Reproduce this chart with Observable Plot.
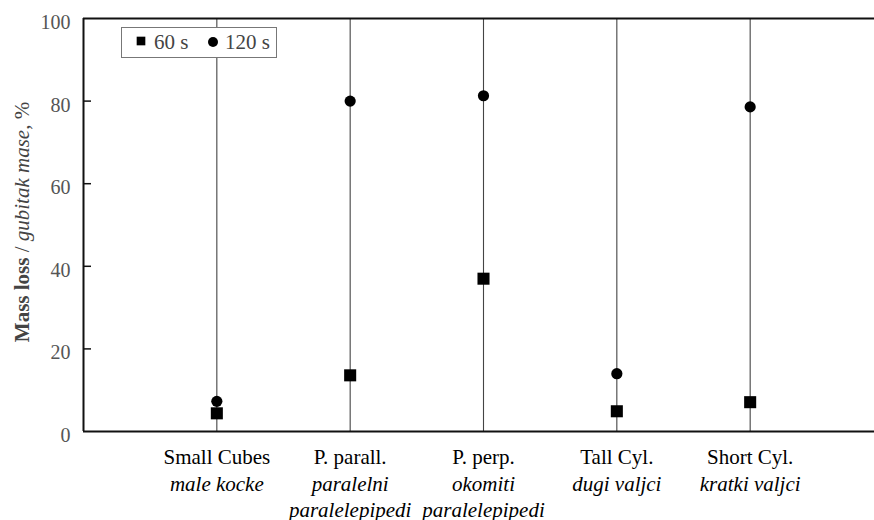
<!DOCTYPE html>
<html>
<head>
<meta charset="utf-8">
<script src="https://cdn.jsdelivr.net/npm/d3@7"></script>
<script src="https://cdn.jsdelivr.net/npm/@observablehq/plot@0.6"></script>
<style>
  html, body { margin: 0; padding: 0; background: #fff; overflow: hidden; }
  #chart { position: relative; width: 874px; height: 520px; overflow: hidden; }
</style>
</head>
<body>
<div id="chart"></div>
<script>
const categories = ["Small Cubes", "P. parall.", "P. perp.", "Tall Cyl.", "Short Cyl."];
const subLabels = ["male kocke", "paralelni\nparalelepipedi", "okomiti\nparalelepipedi", "dugi valjci", "kratki valjci"];
const mass60 = [4.4, 13.6, 37.0, 4.9, 7.1];
const mass120 = [7.3, 80.0, 81.3, 14.0, 78.6];
const yTicks = [0, 20, 40, 60, 80, 100];
const innerTicks = [20, 40, 60, 80];
const seriesNames = ["60 s", "120 s"];

const idx = categories.map((_, i) => i);
const rows60 = categories.map((c, i) => ({i, v: mass60[i]}));
const rows120 = categories.map((c, i) => ({i, v: mass120[i]}));
const labelRows = categories.map((c, i) => ({i, en: c, hr: subLabels[i]}));

const serif = "'Liberation Serif', 'Times New Roman', serif";

const chart = Plot.plot({
  width: 874,
  height: 520,
  marginLeft: 83,
  marginRight: 0,
  marginTop: 18,
  marginBottom: 89,
  style: {fontFamily: serif, background: "white"},
  x: {domain: [-1, 5], range: [83, 883], axis: null},
  y: {domain: [0, 100], axis: null},
  marks: [
    // category guide lines
    Plot.ruleX(idx, {x: d => d, y1: 0, y2: 100, stroke: "#444", strokeWidth: 1.1}),
    // frame: bottom, top, left
    Plot.ruleY([0], {stroke: "#111", strokeWidth: 2}),
    Plot.ruleY([100], {stroke: "#111", strokeWidth: 2}),
    Plot.ruleX([-1], {y1: 0, y2: 100, stroke: "#111", strokeWidth: 2}),
    // inner ticks on y axis
    Plot.ruleY(innerTicks, {x1: -1, x2: -0.94, stroke: "#111", strokeWidth: 1.5}),
    // y tick labels
    Plot.axisY(yTicks, {tickSize: 0, tickPadding: 13, fontSize: 20, fill: "#555", dy: 4, label: null}),
    // points
    Plot.dot(rows60, {x: "i", y: "v", symbol: "square", r: 6.8, fill: "#000", stroke: "none"}),
    Plot.dot(rows120, {x: "i", y: "v", symbol: "circle", r: 5.6, fill: "#000", stroke: "none"}),
    // category labels
    Plot.text(labelRows, {x: "i", y: 0, text: "en", dy: 18, lineAnchor: "top", fontSize: 21, fill: "#000", textAnchor: "middle"}),
    Plot.text(labelRows, {x: "i", y: 0, text: "hr", dy: 42, lineAnchor: "top", fontSize: 21, fill: "#000", fontStyle: "italic", lineHeight: 1.2, textAnchor: "middle"})
  ]
});

document.getElementById("chart").appendChild(chart);

const svg = d3.select(chart);

// y-axis title with mixed styles
const yl = svg.append("text")
  .attr("transform", "translate(29,222) rotate(-90)")
  .attr("text-anchor", "middle")
  .attr("font-size", 21)
  .attr("fill", "#444")
  .attr("font-family", serif);
yl.append("tspan").attr("font-weight", "bold").text("Mass loss");
yl.append("tspan").text(" / ");
yl.append("tspan").attr("font-style", "italic").text("gubitak mase");
yl.append("tspan").text(", %");

// legend
const lg = svg.append("g").attr("font-family", serif).attr("font-size", 21)
  .attr("fill", "#444").attr("text-anchor", "start");
lg.append("rect").attr("x", 121.5).attr("y", 27.5).attr("width", 155).attr("height", 30)
  .attr("fill", "white").attr("stroke", "#777").attr("stroke-width", 1);
lg.append("path").attr("d", d3.symbol(d3.symbolSquare, 75)()).attr("transform", "translate(141,41)").attr("fill", "#000");
lg.append("text").attr("x", 154).attr("y", 49).text(seriesNames[0]);
lg.append("circle").attr("cx", 213).attr("cy", 42).attr("r", 5).attr("fill", "#000");
lg.append("text").attr("x", 225).attr("y", 49).text(seriesNames[1]);
</script>
</body>
</html>
